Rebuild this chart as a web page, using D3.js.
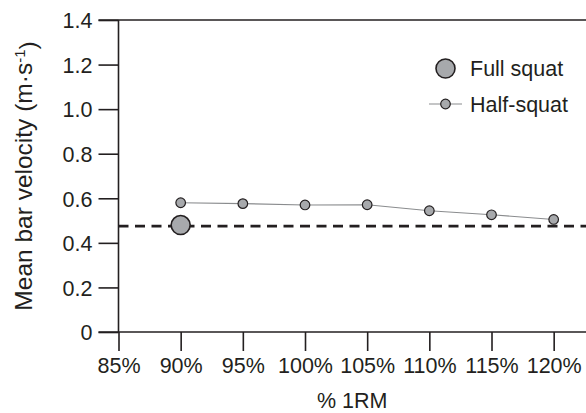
<!DOCTYPE html>
<html>
<head>
<meta charset="utf-8">
<script src="https://cdn.jsdelivr.net/npm/d3@7"></script>
<style>
  html, body { margin: 0; padding: 0; background: #fff; }
  svg { display: block; font-family: "Liberation Sans", Arial, Helvetica, sans-serif; }
</style>
</head>
<body>
<svg id="chart" width="586" height="413"></svg>
<script>
// ---- data ----
const loads = [90, 95, 100, 105, 110, 115, 120];          // % 1RM
const halfSquat = [0.580, 0.576, 0.570, 0.571, 0.544, 0.526, 0.505];
const fullSquatLoad = [90];
const fullSquat = [0.48];
const referenceLine = 0.475;
const xTicks = [85, 90, 95, 100, 105, 110, 115, 120];
const yTicks = [0, 0.2, 0.4, 0.6, 0.8, 1.0, 1.2, 1.4];
const legendLabels = ["Full squat", "Half-squat"];

// ---- layout ----
const svg = d3.select("#chart");
const ink = "#231f20";
const grey = "#a7a9ac";
const fs = "21.5px";
const mLeft = 118.5, mRight = 586, mTop = 20, mBottom = 332;

const x = d3.scaleLinear().domain([85, 122.6]).range([mLeft, mRight]);
const y = d3.scaleLinear().domain([0, 1.4]).range([mBottom, mTop]);

// top frame line
svg.append("line")
  .attr("x1", mLeft - 20).attr("x2", mRight)
  .attr("y1", y(1.4)).attr("y2", y(1.4))
  .attr("stroke", ink).attr("stroke-width", 1.6);

// y axis
const yAxis = svg.append("g")
  .attr("transform", `translate(${mLeft},0)`)
  .call(d3.axisLeft(y).tickValues(yTicks)
    .tickFormat(d => d === 0 ? "0" : d3.format(".1f")(d))
    .tickSize(20).tickPadding(6));
yAxis.select(".domain").remove();
yAxis.append("line").attr("x1", 0).attr("x2", 0).attr("y1", mTop).attr("y2", mBottom)
  .attr("stroke", ink).attr("stroke-width", 1.6);
yAxis.selectAll(".tick line").attr("stroke", ink).attr("stroke-width", 1.6);
yAxis.selectAll(".tick text").attr("fill", ink).style("font-size", fs)
  .attr("dy", "0.36em");
yAxis.attr("font-family", null).attr("font-size", null);

// x axis
const xAxis = svg.append("g")
  .attr("transform", `translate(0,${mBottom})`)
  .call(d3.axisBottom(x).tickValues(xTicks).tickFormat(d => d + "%")
    .tickSize(19).tickPadding(7));
xAxis.select(".domain").remove();
xAxis.append("line").attr("x1", mLeft - 20).attr("x2", mRight).attr("y1", 0).attr("y2", 0)
  .attr("stroke", ink).attr("stroke-width", 1.6);
xAxis.selectAll(".tick line").attr("stroke", ink).attr("stroke-width", 1.6);
xAxis.selectAll(".tick text").attr("fill", ink).style("font-size", fs);
xAxis.attr("font-family", null).attr("font-size", null);

// axis titles
svg.append("text")
  .attr("x", (mLeft + mRight) / 2).attr("y", 408)
  .attr("text-anchor", "middle").attr("fill", ink).style("font-size", fs)
  .text("% 1RM");

const yt = svg.append("text")
  .attr("transform", `translate(32,176) rotate(-90)`)
  .attr("text-anchor", "middle").attr("fill", ink).style("font-size", "24.5px");
yt.append("tspan").text("Mean bar velocity (m·s");
yt.append("tspan").attr("dy", "-0.45em").style("font-size", "15px").text("-1");
yt.append("tspan").attr("dy", "0.45em").text(")");

// dashed reference line
svg.append("line")
  .attr("x1", mLeft).attr("x2", mRight)
  .attr("y1", y(referenceLine)).attr("y2", y(referenceLine))
  .attr("stroke", ink).attr("stroke-width", 2.6)
  .attr("stroke-dasharray", "10,6.5");

// half-squat line + points
const halfData = loads.map((l, i) => [l, halfSquat[i]]);
svg.append("path")
  .datum(halfData)
  .attr("fill", "none").attr("stroke", "#8a8c8e").attr("stroke-width", 1.1)
  .attr("d", d3.line().x(d => x(d[0])).y(d => y(d[1])));
svg.append("g").selectAll("circle")
  .data(halfData)
  .join("circle")
  .attr("cx", d => x(d[0])).attr("cy", d => y(d[1])).attr("r", 4.8)
  .attr("fill", grey).attr("stroke", ink).attr("stroke-width", 1.2);

// full squat point
svg.append("g").selectAll("circle")
  .data(fullSquatLoad.map((l, i) => [l, fullSquat[i]]))
  .join("circle")
  .attr("cx", d => x(d[0])).attr("cy", d => y(d[1])).attr("r", 9.5)
  .attr("fill", grey).attr("stroke", ink).attr("stroke-width", 1.6);

// legend
const lg = svg.append("g");
lg.append("circle").attr("cx", 445.5).attr("cy", 68.5).attr("r", 9.5)
  .attr("fill", grey).attr("stroke", ink).attr("stroke-width", 1.6);
lg.append("text").attr("x", 470).attr("y", 76).attr("fill", ink)
  .style("font-size", fs).text(legendLabels[0]);
lg.append("line").attr("x1", 429).attr("x2", 462).attr("y1", 104).attr("y2", 104)
  .attr("stroke", "#8a8c8e").attr("stroke-width", 1.1);
lg.append("circle").attr("cx", 445.5).attr("cy", 104).attr("r", 4.8)
  .attr("fill", grey).attr("stroke", ink).attr("stroke-width", 1.2);
lg.append("text").attr("x", 470).attr("y", 111.5).attr("fill", ink)
  .style("font-size", fs).text(legendLabels[1]);
</script>
</body>
</html>
